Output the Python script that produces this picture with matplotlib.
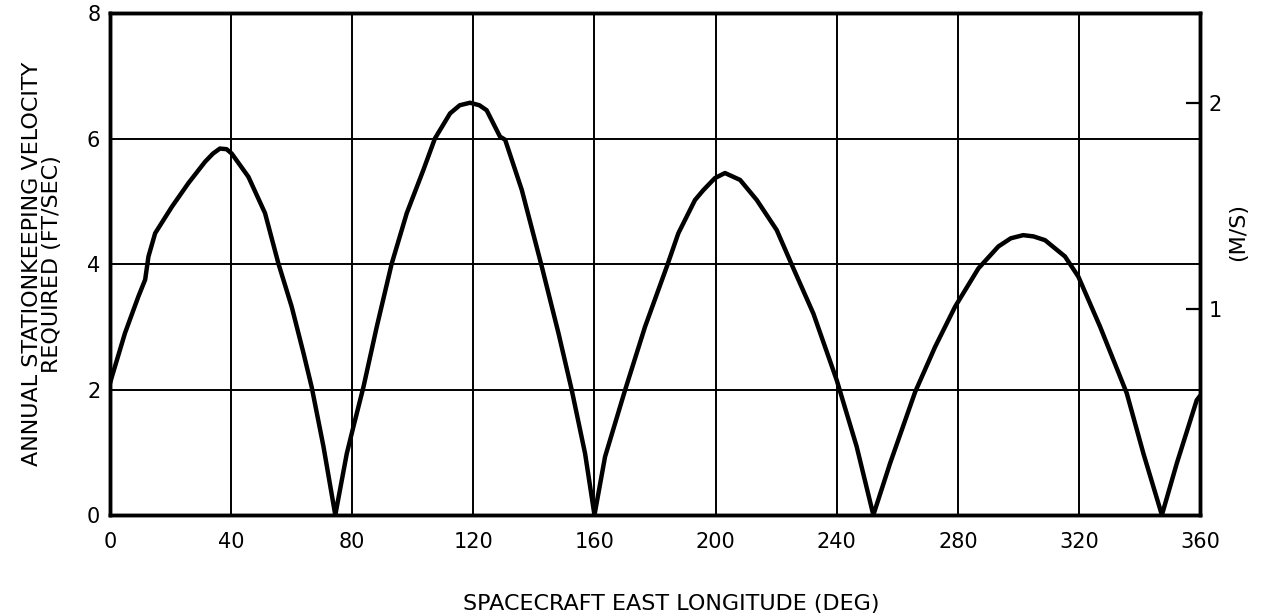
import matplotlib
matplotlib.use("Agg")
import matplotlib.pyplot as plt

# Curve: longitude (deg) vs velocity (ft/sec).
LONGITUDE_DEG = [
    0, 0.6, 4.95, 9.35, 11.6, 12.7, 14.9, 20.4, 25.9, 31.4, 34, 36.3, 38.5, 40.2,
    45.7, 51.2, 55.6, 60.0, 63.9, 66.6, 70.5, 74.4,
    78.2, 80.4, 83.7, 88.1, 93.0, 98.0, 103.5, 107.3, 112.3, 115.5, 118.9, 122, 124.4,
    128.8, 130.5, 136.0, 142.6, 148.1, 152.5, 156.9, 160.0,
    163.5, 170.1, 176.7, 183.9, 187.7, 193.2, 196.0, 199.8, 203.1, 208.1, 213.6,
    220.2, 225.7, 232.3, 240.0, 246.6, 252.1,
    257.6, 265.9, 272.5, 279.1, 286.8, 293.4, 297.5, 301.6, 305, 308.8, 315.4, 319.8,
    327.0, 335.8, 341.3, 347.4,
    352.3, 358.9, 360,
]
VELOCITY_FPS = [
    2.1, 2.2, 2.9, 3.48, 3.75, 4.12, 4.49, 4.91, 5.29, 5.63, 5.76, 5.84, 5.83, 5.76,
    5.39, 4.81, 4.01, 3.32, 2.58, 2.04, 1.09, 0.0,
    0.98, 1.41, 2.04, 3.0, 4.0, 4.81, 5.5, 6.0, 6.4, 6.53, 6.57, 6.53, 6.45,
    6.03, 5.98, 5.18, 3.96, 2.9, 1.99, 0.98, 0.0,
    0.93, 1.99, 3.0, 3.96, 4.49, 5.02, 5.18, 5.37, 5.45, 5.34, 5.02,
    4.54, 3.93, 3.21, 2.15, 1.09, 0.0,
    0.82, 1.96, 2.68, 3.32, 3.93, 4.28, 4.41, 4.46, 4.44, 4.38, 4.12, 3.8,
    3.0, 1.94, 0.98, 0.0,
    0.82, 1.83, 1.9,
]

X_TICKS = [0, 40, 80, 120, 160, 200, 240, 280, 320, 360]
Y_TICKS = [0, 2, 4, 6, 8]
MS_TICKS = [1, 2]
FT_PER_M = 3.2808

plt.rcParams["font.family"] = ["DejaVu Sans"]

fig = plt.figure(figsize=(12.66, 6.14), dpi=100)
ax = fig.add_axes([0.0869, 0.1612, 0.8610, 0.8176])

ax.plot(LONGITUDE_DEG, VELOCITY_FPS, color="black", linewidth=3.2,
        solid_joinstyle="round", solid_capstyle="round", zorder=3)

ax.set_xlim(0, 360)
ax.set_ylim(0, 8)
ax.set_xticks(X_TICKS)
ax.set_yticks(Y_TICKS)
ax.grid(True, color="black", linewidth=1.4)
ax.tick_params(axis="x", length=0, labelsize=15, pad=12)
ax.tick_params(axis="y", length=0, labelsize=15, pad=7)
for s in ax.spines.values():
    s.set_linewidth(2.5)

# Axis titles placed where they sit in the reference.
ax.set_xlabel("SPACECRAFT EAST LONGITUDE (DEG)", fontsize=16)
ax.xaxis.set_label_coords(0.515, -0.158)
ax.set_ylabel("ANNUAL STATIONKEEPING VELOCITY\nREQUIRED (FT/SEC)", fontsize=16,
              labelpad=18, linespacing=1.0)

ax2 = ax.twinx()
ax2.set_ylim(0, 8 / FT_PER_M)
ax2.set_yticks(MS_TICKS)
ax2.tick_params(direction="in", length=10, width=1.6, labelsize=15, pad=6)
for s in ax2.spines.values():
    s.set_linewidth(2.5)
fig.text(1238 / 1266, 1 - 232 / 614, "(M/S)", fontsize=16, rotation=90,
         ha="center", va="center")

plt.savefig("out.png", dpi=100)
plt.close()
